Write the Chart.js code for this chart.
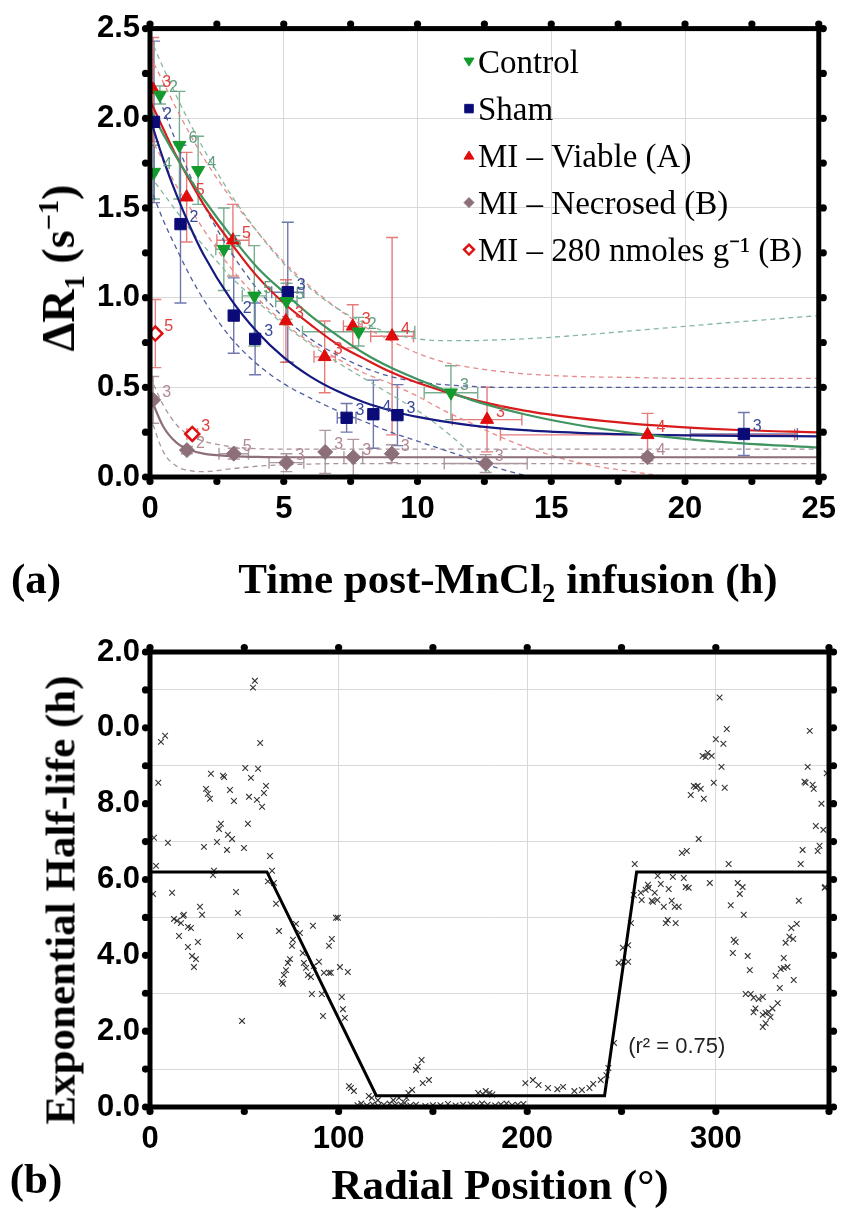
<!DOCTYPE html>
<html><head><meta charset="utf-8">
<script src="https://cdn.jsdelivr.net/npm/chart.js@4.4.1/dist/chart.umd.min.js"></script>
<style>
html,body{margin:0;padding:0;background:#fff;}
#wrap{position:relative;width:850px;height:1215px;overflow:hidden;background:#fff;}
canvas{position:absolute;left:0;}
#c1{top:0;} #c2{top:600px;}
.t{position:absolute;font-family:'Liberation Serif','Times New Roman',serif;font-weight:bold;color:#000;white-space:nowrap;transform:translate(-50%,-50%);line-height:1;}
.rot{transform:translate(-50%,-50%) rotate(-90deg);}
sub,sup{font-size:0.62em;line-height:0;}
</style></head><body><div id="wrap">
<canvas id="c1" width="850" height="600"></canvas>
<canvas id="c2" width="850" height="615"></canvas>
<div class="t rot" style="left:59px;top:268px;font-size:46px">ΔR<sub>1</sub> (s<sup>−1</sup>)</div>
<div class="t" style="left:36px;top:578px;font-size:43px">(a)</div>
<div class="t" style="left:508px;top:578px;font-size:43px">Time post-MnCl<sub>2</sub> infusion (h)</div>
<div class="t rot" style="left:60px;top:900px;font-size:43px">Exponential Half-life (h)</div>
<div class="t" style="left:36px;top:1178px;font-size:43px">(b)</div>
<div class="t" style="left:500px;top:1184px;font-size:43px">Radial Position (°)</div>
</div>
<script>
// ---------- Panel (a) data ----------
const seriesNames = ['Control','Sham','MI – Viable (A)','MI – Necrosed (B)','MI – 280 nmoles g⁻¹ (B)'];

const ctrlT  = [0.15, 0.37, 1.1, 1.8, 2.76, 3.9, 5.1, 7.8, 11.25];
const ctrlR  = [1.70, 2.13, 1.85, 1.71, 1.27, 1.01, 0.98, 0.81, 0.47];
const ctrlYE = [0.15, 0.05, 0.30, 0.19, 0.23, 0.28, 0.10, 0.08, 0.15];
const ctrlXE = [0, 0, 0, 0, 0.3, 0.45, 0.4, 2.1, 1.0];
const ctrlN  = [4, 2, 6, 4, 5, 5, 5, 2, 3];

const shamT  = [0.15, 1.14, 3.13, 3.93, 5.15, 7.35, 8.35, 9.25, 22.2];
const shamR  = [1.98, 1.41, 0.90, 0.77, 1.03, 0.33, 0.35, 0.345, 0.24];
const shamYE = [0.45, 0.44, 0.21, 0.20, 0.39, 0.08, 0.19, 0.17, 0.12];
const shamXE = [0, 0, 0, 0, 0.6, 0.35, 0, 0, 2.0];
const shamN  = [2, 2, 2, 3, 3, 3, 4, 3, 3];

const viabT  = [0.12, 1.37, 3.1, 5.08, 6.53, 7.58, 9.05, 12.6, 18.6];
const viabR  = [2.16, 1.56, 1.32, 0.87, 0.67, 0.84, 0.785, 0.32, 0.235];
const viabYE = [0.29, 0.25, 0.20, 0.23, 0.20, 0.12, 0.55, 0.18, 0.12];
const viabXE = [0, 0, 0.6, 0, 0.4, 0.35, 0.8, 1.3, 5.5];
const viabN  = [3, 5, 5, 3, 3, 3, 4, 3, 4];

const necrT  = [0.12, 1.38, 3.13, 5.1, 6.55, 7.6, 9.04, 12.55, 18.6];
const necrR  = [0.43, 0.15, 0.13, 0.08, 0.14, 0.11, 0.13, 0.075, 0.11];
const necrYE = [0.13, 0.02, 0.03, 0.05, 0.12, 0.10, 0.05, 0.05, 0.02];
const necrXE = [0, 0, 0.55, 0.65, 0, 0.35, 0, 1.55, 0];
const necrN  = [3, 2, 5, 3, 3, 3, 3, 3, 4];

const doseT  = [0.2, 1.58];
const doseR  = [0.80, 0.24];
const doseYE = [0.19, 0.02];
const doseXE = [0, 0.2];
const doseN  = [5, 3];

// fitted curves
const fitT    = [0, 0.5, 1, 1.5, 2, 3, 4, 5, 6, 7, 8, 9, 10, 12, 14, 16, 18, 20, 22, 25];
const fitCtrl = [2.05, 1.91, 1.78, 1.66, 1.55, 1.35, 1.17, 1.03, 0.90, 0.79, 0.69, 0.61, 0.545, 0.43, 0.35, 0.29, 0.246, 0.213, 0.189, 0.164];
const fitViab = [2.10, 1.94, 1.785, 1.65, 1.52, 1.31, 1.12, 0.97, 0.85, 0.74, 0.66, 0.585, 0.525, 0.434, 0.37, 0.328, 0.298, 0.277, 0.262, 0.249];
const fitSham = [2.00, 1.77, 1.57, 1.395, 1.24, 0.996, 0.81, 0.667, 0.56, 0.479, 0.417, 0.371, 0.335, 0.288, 0.261, 0.246, 0.237, 0.232, 0.229, 0.227];
const fitNecr = [0.45, 0.28, 0.19, 0.15, 0.13, 0.116, 0.112, 0.11, 0.11, 0.11, 0.11, 0.11, 0.11, 0.11, 0.11, 0.11, 0.11, 0.11, 0.11, 0.11];

// confidence bands (dashed)
const bandT      = [0, 0.5, 1, 1.5, 2, 3, 4, 5, 6, 7, 8, 9, 10, 11, 12, 13, 14, 16, 18, 20, 22, 25];
const ctrlUpper  = [2.45, 2.28, 2.12, 1.97, 1.83, 1.58, 1.37, 1.19, 1.05, 0.94, 0.86, 0.80, 0.77, 0.76, 0.76, 0.765, 0.77, 0.79, 0.815, 0.84, 0.865, 0.90];
const ctrlLower  = [1.68, 1.58, 1.48, 1.38, 1.29, 1.12, 0.98, 0.85, 0.74, 0.64, 0.55, 0.46, 0.37, 0.26, 0.13, -0.02, -0.2, -0.5, -0.5, -0.5, -0.5, -0.5];
const viabUpper  = [2.35, 2.20, 2.05, 1.91, 1.78, 1.56, 1.37, 1.20, 1.06, 0.94, 0.84, 0.76, 0.69, 0.64, 0.61, 0.59, 0.575, 0.56, 0.555, 0.55, 0.55, 0.55];
const viabLower  = [1.90, 1.76, 1.62, 1.50, 1.38, 1.17, 1.00, 0.86, 0.75, 0.66, 0.58, 0.52, 0.45, 0.37, 0.30, 0.23, 0.17, 0.08, 0.03, -0.01, -0.05, -0.1];
const shamUpper  = [2.25, 2.05, 1.86, 1.68, 1.52, 1.26, 1.05, 0.89, 0.77, 0.68, 0.61, 0.56, 0.53, 0.515, 0.505, 0.50, 0.50, 0.50, 0.50, 0.50, 0.50, 0.50];
const shamLower  = [1.62, 1.43, 1.27, 1.12, 0.99, 0.78, 0.63, 0.52, 0.44, 0.37, 0.31, 0.25, 0.20, 0.15, 0.10, 0.05, 0.01, -0.05, -0.1, -0.1, -0.1, -0.1];
const necrUpper  = [0.56, 0.40, 0.29, 0.23, 0.20, 0.17, 0.158, 0.155, 0.155, 0.155, 0.155, 0.155, 0.155, 0.155, 0.155, 0.155, 0.155, 0.155, 0.155, 0.155, 0.155, 0.155];
const necrLower  = [0.34, 0.14, 0.06, 0.035, 0.03, 0.045, 0.06, 0.068, 0.072, 0.075, 0.075, 0.075, 0.075, 0.075, 0.075, 0.075, 0.075, 0.075, 0.075, 0.075, 0.075, 0.075];

// ---------- Panel (b) data ----------
const radX = [55.6,54.6,8.0,5.8,58.4,4.4,32.3,38.7,39.3,50.5,57.3,53.5,29.7,30.7,31.8,42.4,44.5,52.5,56.7,61.5,60.4,59.4,37.6,36.6,51.9,41.3,43.5,35.5,40.8,28.6,49.8,9.5,2.1,3.2,63.6,64.7,65.7,66.8,33.9,33.4,1.6,11.7,45.6,26.5,27.6,46.6,12.7,17.5,18.0,
14.3,16.4,20.1,21.7,15.4,20.1,25.4,22.3,24.4,23.3,47.7,48.8,62.5,68.4,77.4,86.4,79.5,75.8,75.3,74.2,73.1,72.1,71.0,69.9,70.5,81.0,81.6,82.7,83.7,85.3,89.6,86.9,85.8,91.1,91.7,94.9,96.4,98.6,99.6,92.2,94.9,95.9,100.7,104.9,101.7,102.3,103.3,105.5,106.5,108.1,116.0,117.6,120.8,129.0,132.0,136.0,137.0,139.0,141.0,142.0,144.0,144.6,147.9,
174,178,180,199,203,206,211,216,219,225,229,233,235,239,242,243,246,248.5,251,253.5,250.7,253.5,255,273.5,274.5,278.7,307.9,312.7,314.8,309.5,310.5,309,316.9,318,315.8,318.5,320,322.7,324.9,321,320,324.9,326.4,328,330,332.8,326.4,324.9,329,333.9,331.7,334.4,336,338,336,341.3,337,339,341,340,342.9,344,358,
302,305.8,300,304,293,294.6,295.7,297.8,303,298.9,304.7,288.3,289.3,290.4,292,286.7,293.6,290.9,282,284.6,257,306.8,269.2,277.2,283,296.8,311.6,314.2,284,285.6,264,264.4,262.8,270.8,275,267.6,260.2,256.5,260.7,266,269,272.4,276.6,278.2,280.3,266.6,349.8,348.7,347,347.6,351.3,351.9,356,353,357,346,354,355,345,357.7,358.8,
110,112,115,118,121,124,127,130,133,135,138,141,146,150,154,158,162,166,170,173,176,179,183,186,189,192,195,198,176.5,181.5];
const radY = [11.24,11.06,9.79,9.63,9.6,8.55,8.79,8.74,8.7,8.94,8.92,8.68,8.39,8.26,8.13,8.36,8.07,8.18,8.1,8.47,8.28,7.92,7.47,7.33,7.47,7.18,7.07,6.99,6.78,6.86,6.83,6.97,7.1,6.36,6.62,6.23,5.91,5.36,6.23,6.12,5.62,5.65,5.67,5.28,5.07,5.12,4.96,5.04,5.07,
4.91,4.85,4.75,4.72,4.51,4.22,4.35,3.98,3.90,3.69,4.51,2.27,5.95,4.64,4.83,4.78,4.59,4.41,4.25,3.90,3.80,3.61,3.48,3.30,3.25,4.06,3.80,3.67,3.48,3.43,3.83,3.72,2.98,2.98,2.40,4.25,4.43,4.99,4.99,3.54,3.54,3.54,3.69,3.56,2.90,2.58,2.35,0.55,0.50,0.42,0.29,0.24,0.18,0.18,0.24,0.24,0.37,0.45,0.98,1.06,1.24,0.63,0.71,
0.37,0.42,0.37,0.63,0.71,0.58,0.50,0.47,0.53,0.42,0.45,0.50,0.61,0.71,0.84,1.03,1.69,3.80,3.83,3.83,4.20,4.27,4.85,4.85,4.93,4.85,5.32,5.62,5.07,4.41,4.35,4.06,3.98,3.61,2.98,2.98,2.88,2.85,2.90,2.60,2.50,2.43,2.48,2.50,2.60,2.74,2.21,2.11,2.37,3.14,3.46,3.64,3.67,3.69,3.93,3.35,4.33,4.49,4.43,4.72,4.83,5.44,5.80,
10.8,9.97,9.7,9.58,9.26,9.23,9.34,9.26,8.97,8.55,8.42,8.47,8.44,8.47,8.39,8.23,8.13,7.07,6.70,6.75,6.41,6.41,6.10,6.07,6.04,5.91,5.91,5.80,5.80,5.78,5.86,5.78,5.73,5.88,5.75,5.65,5.65,5.59,5.46,5.44,5.46,5.28,5.44,5.28,5.28,5.41,9.92,8.97,8.58,8.55,8.50,8.39,8.00,7.41,7.31,6.78,6.75,6.89,6.41,5.78,8.80,
0.05,0.09,0.04,0.07,0.03,0.06,0.09,0.05,0.07,0.11,0.04,0.06,0.03,0.05,0.05,0.08,0.04,0.06,0.07,0.05,0.09,0.06,0.04,0.07,0.09,0.05,0.06,0.08,0.34,0.33];

const fitRad = [0, 62, 120, 241, 258, 360];
const fitHL  = [6.2, 6.2, 0.3, 0.3, 6.2, 6.2];
const halfLifeTickLabels = ['0.0','2.0','4.0','6.0','8.0','0.0','2.0'];
const rSquaredText = '(r² = 0.75)';
const rSquaredAt = {x: 253.5, y: 1.58};

// ---------- helpers ----------
const pts = (xs, ys) => xs.map((v, i) => ({x: v, y: ys[i]}));
const tickFont = {family: "'Liberation Sans', Arial, sans-serif", weight: 'bold', size: 31};
const GRID = '#d9d9d9';

const series = [
  {t: ctrlT, r: ctrlR, ye: ctrlYE, xe: ctrlXE, n: ctrlN, err: 'rgba(95,160,125,0.85)', nc: '#5f9c7c', shape: 'tdown', fill: '#129a2c', stroke: '#129a2c'},
  {t: shamT, r: shamR, ye: shamYE, xe: shamXE, n: shamN, err: 'rgba(85,95,160,0.85)', nc: '#3a4a9a', shape: 'square', fill: '#0b0b78', stroke: '#0b0b78'},
  {t: viabT, r: viabR, ye: viabYE, xe: viabXE, n: viabN, err: 'rgba(225,100,100,0.85)', nc: '#e04040', shape: 'tup', fill: '#e00b0b', stroke: '#e00b0b'},
  {t: necrT, r: necrR, ye: necrYE, xe: necrXE, n: necrN, err: 'rgba(160,135,145,0.85)', nc: '#b08890', shape: 'diamond', fill: '#8c6f78', stroke: '#8c6f78'},
  {t: doseT, r: doseR, ye: doseYE, xe: doseXE, n: doseN, err: 'rgba(230,110,110,0.85)', nc: '#e04040', shape: 'odiamond', fill: '#ffffff', stroke: '#e01010'}
];

function drawMarker(ctx, shape, x, y, r, fill, stroke) {
  ctx.save();
  ctx.fillStyle = fill; ctx.strokeStyle = stroke; ctx.lineWidth = 1;
  ctx.beginPath();
  if (shape === 'tdown') { ctx.moveTo(x - r, y - r * 0.7); ctx.lineTo(x + r, y - r * 0.7); ctx.lineTo(x, y + r * 0.9); }
  else if (shape === 'tup') { ctx.moveTo(x - r, y + r * 0.7); ctx.lineTo(x + r, y + r * 0.7); ctx.lineTo(x, y - r * 0.9); }
  else if (shape === 'square') { ctx.rect(x - r * 0.85, y - r * 0.85, r * 1.7, r * 1.7); }
  else { ctx.moveTo(x, y - r); ctx.lineTo(x + r, y); ctx.lineTo(x, y + r); ctx.lineTo(x - r, y); }
  ctx.closePath();
  if (shape === 'odiamond') { ctx.fillStyle = '#fff'; ctx.fill(); ctx.lineWidth = 2.4; ctx.stroke(); }
  else { ctx.fill(); ctx.stroke(); }
  ctx.restore();
}

const framePlugin = {
  id: 'frame',
  afterDraw(chart) {
    const {ctx, chartArea: a, scales: {x, y}} = chart;
    ctx.save();
    ctx.strokeStyle = '#000'; ctx.lineWidth = 5;
    ctx.strokeRect(a.left, a.top, a.right - a.left, a.bottom - a.top);
    ctx.fillStyle = '#000';
    const rr = 3.6, off = 4.5;
    const dot = (px, py) => { ctx.beginPath(); ctx.arc(px, py, rr, 0, Math.PI * 2); ctx.fill(); };
    x.ticks.forEach(t => { const px = x.getPixelForValue(t.value); dot(px, a.top - off); dot(px, a.bottom + off); });
    y.ticks.forEach(t => { const py = y.getPixelForValue(t.value); dot(a.left - off, py); dot(a.right + off, py); });
    ctx.restore();
  }
};

const errPlugin = {
  id: 'err',
  beforeDatasetsDraw(chart) {
    const {ctx, chartArea: a, scales: {x, y}} = chart;
    ctx.save();
    ctx.beginPath(); ctx.rect(a.left, a.top, a.right - a.left, a.bottom - a.top); ctx.clip();
    ctx.lineWidth = 1.4;
    series.forEach(s => {
      ctx.strokeStyle = s.err;
      s.t.forEach((tv, i) => {
        const px = x.getPixelForValue(tv), py = y.getPixelForValue(s.r[i]);
        ctx.beginPath();
        if (s.ye[i]) {
          const yt = y.getPixelForValue(s.r[i] + s.ye[i]), yb = y.getPixelForValue(s.r[i] - s.ye[i]);
          ctx.moveTo(px, yt); ctx.lineTo(px, yb);
          ctx.moveTo(px - 6, yt); ctx.lineTo(px + 6, yt);
          ctx.moveTo(px - 6, yb); ctx.lineTo(px + 6, yb);
        }
        if (s.xe[i]) {
          const xl = x.getPixelForValue(tv - s.xe[i]), xr = x.getPixelForValue(tv + s.xe[i]);
          ctx.moveTo(xl, py); ctx.lineTo(xr, py);
          ctx.moveTo(xl, py - 6); ctx.lineTo(xl, py + 6);
          ctx.moveTo(xr, py - 6); ctx.lineTo(xr, py + 6);
        }
        ctx.stroke();
      });
    });
    ctx.restore();
  },
  afterDatasetsDraw(chart) {
    const {ctx, scales: {x, y}} = chart;
    ctx.save();
    ctx.font = "16px 'Liberation Sans', Arial, sans-serif";
    ctx.textBaseline = 'middle'; ctx.textAlign = 'left';
    series.forEach(s => {
      ctx.fillStyle = s.nc;
      s.t.forEach((tv, i) => {
        ctx.fillText(String(s.n[i]), x.getPixelForValue(tv) + 9, y.getPixelForValue(s.r[i]) - 7);
      });
    });
    ctx.restore();
  }
};

const legendPlugin = {
  id: 'lg',
  afterDraw(chart) {
    const ctx = chart.ctx, a = chart.chartArea;
    ctx.save();
    ctx.font = "33px 'Liberation Serif', 'Times New Roman', serif";
    ctx.textBaseline = 'middle'; ctx.textAlign = 'left';
    seriesNames.forEach((name, i) => {
      const yy = a.top + 36 + i * 47;
      const s = series[i];
      drawMarker(ctx, s.shape, a.left + 319, yy - 3, 5, s.fill, s.stroke);
      ctx.fillStyle = '#000';
      ctx.fillText(name, a.left + 328, yy);
    });
    ctx.restore();
  }
};

const isMult = (v, m) => Math.abs(v / m - Math.round(v / m)) < 1e-6;

const lineDs = (xs, ys, color, width, dash, order) => ({
  type: 'scatter', data: pts(xs, ys), showLine: true, pointRadius: 0, borderColor: color,
  borderWidth: width, borderDash: dash, cubicInterpolationMode: 'monotone', fill: false, order: order
});

// ---------- Chart (a) ----------
new Chart(document.getElementById('c1'), {
  type: 'scatter',
  data: {
    datasets: [
      {label: seriesNames[0], data: pts(ctrlT, ctrlR), pointStyle: 'triangle', pointRotation: 180, pointRadius: 7.5, pointBackgroundColor: '#129a2c', pointBorderColor: '#129a2c', pointBorderWidth: 1, order: 0},
      {label: seriesNames[1], data: pts(shamT, shamR), pointStyle: 'rect', pointRadius: 8, pointBackgroundColor: '#0b0b78', pointBorderColor: '#0b0b78', pointBorderWidth: 1, order: 0},
      {label: seriesNames[2], data: pts(viabT, viabR), pointStyle: 'triangle', pointRadius: 7.5, pointBackgroundColor: '#e00b0b', pointBorderColor: '#e00b0b', pointBorderWidth: 1, order: 0},
      {label: seriesNames[3], data: pts(necrT, necrR), pointStyle: 'rectRot', pointRadius: 7.5, pointBackgroundColor: '#8c6f78', pointBorderColor: '#8c6f78', pointBorderWidth: 1, order: 0},
      {label: seriesNames[4], data: pts(doseT, doseR), pointStyle: 'rectRot', pointRadius: 7, pointBackgroundColor: '#ffffff', pointBorderColor: '#e01010', pointBorderWidth: 2.5, order: 0},
      lineDs(fitT, fitCtrl, '#3f9460', 2.2, [], 1),
      lineDs(fitT, fitSham, '#141a80', 2.2, [], 1),
      lineDs(fitT, fitViab, '#d81c1c', 2.2, [], 1),
      lineDs(fitT, fitNecr, '#8c6f78', 2.2, [], 1),
      lineDs(bandT, ctrlUpper, '#86b8a0', 1.3, [5, 4], 2),
      lineDs(bandT, ctrlLower, '#86b8a0', 1.3, [5, 4], 2),
      lineDs(bandT, viabUpper, '#e68a8a', 1.3, [5, 4], 2),
      lineDs(bandT, viabLower, '#e68a8a', 1.3, [5, 4], 2),
      lineDs(bandT, shamUpper, '#4f5c9c', 1.3, [5, 4], 2),
      lineDs(bandT, shamLower, '#4f5c9c', 1.3, [5, 4], 2),
      lineDs(bandT, necrUpper, '#a8949a', 1.3, [5, 4], 2),
      lineDs(bandT, necrLower, '#a8949a', 1.3, [5, 4], 2)
    ]
  },
  options: {
    responsive: false, animation: false, devicePixelRatio: 1,
    layout: {padding: {top: 22, right: 21, left: 0, bottom: 0}},
    plugins: {legend: {display: false}, tooltip: {enabled: false}},
    scales: {
      x: {
        type: 'linear', min: 0, max: 25,
        ticks: {stepSize: 2.5, autoSkip: false, maxRotation: 0, padding: 14, color: '#000', font: tickFont,
          callback: v => isMult(v, 5) ? String(v) : ''},
        grid: {drawTicks: false, lineWidth: 1,
          color: c => (c.tick && isMult(c.tick.value, 5) && c.tick.value > 0 && c.tick.value < 25) ? GRID : 'rgba(0,0,0,0)'},
        border: {display: false},
        afterFit(s) { s.height = 123; }
      },
      y: {
        type: 'linear', min: 0, max: 2.5,
        ticks: {stepSize: 0.25, autoSkip: false, padding: 10, color: '#000', font: tickFont,
          callback: v => isMult(v, 0.5) ? v.toFixed(1) : ''},
        grid: {drawTicks: false, lineWidth: 1,
          color: c => (c.tick && isMult(c.tick.value, 0.5) && c.tick.value > 0 && c.tick.value < 2.5) ? GRID : 'rgba(0,0,0,0)'},
        border: {display: false},
        afterFit(s) { s.width = 150; }
      }
    }
  },
  plugins: [errPlugin, legendPlugin, framePlugin]
});

// ---------- Chart (b) ----------
const annotPlugin = {
  id: 'annot',
  afterDatasetsDraw(chart) {
    const {ctx, scales: {x, y}} = chart;
    ctx.save();
    ctx.font = "22px 'Liberation Sans', Arial, sans-serif";
    ctx.fillStyle = '#222'; ctx.textBaseline = 'middle'; ctx.textAlign = 'left';
    ctx.fillText(rSquaredText, x.getPixelForValue(rSquaredAt.x), y.getPixelForValue(rSquaredAt.y));
    ctx.restore();
  }
};

new Chart(document.getElementById('c2'), {
  type: 'scatter',
  data: {
    datasets: [
      {label: 'Half-life', data: pts(radX, radY), pointStyle: 'crossRot', pointRadius: 4, pointBorderColor: '#333', pointBackgroundColor: '#333', pointBorderWidth: 1.1, order: 1},
      {type: 'scatter', label: 'Fit', data: pts(fitRad, fitHL), showLine: true, pointRadius: 0, borderColor: '#000', borderWidth: 3, tension: 0, fill: false, order: 0}
    ]
  },
  options: {
    responsive: false, animation: false, devicePixelRatio: 1,
    layout: {padding: {top: 52, right: 21, left: 0, bottom: 0}},
    plugins: {legend: {display: false}, tooltip: {enabled: false}},
    scales: {
      x: {
        type: 'linear', min: 0, max: 360,
        ticks: {stepSize: 50, autoSkip: false, maxRotation: 0, padding: 14, color: '#000', font: tickFont,
          callback: v => (isMult(v, 100) && v < 360) ? String(v) : ''},
        grid: {drawTicks: false, lineWidth: 1,
          color: c => (c.tick && [100, 200, 300].includes(c.tick.value)) ? GRID : 'rgba(0,0,0,0)'},
        border: {display: false},
        afterFit(s) { s.height = 108; }
      },
      y: {
        type: 'linear', min: 0, max: 12,
        ticks: {stepSize: 1, autoSkip: false, padding: 10, color: '#000', font: tickFont,
          callback: v => isMult(v, 2) ? halfLifeTickLabels[Math.round(v / 2)] : ''},
        grid: {drawTicks: false, lineWidth: 1,
          color: c => (c.tick && !isMult(c.tick.value, 2)) ? GRID : 'rgba(0,0,0,0)'},
        border: {display: false},
        afterFit(s) { s.width = 150; }
      }
    }
  },
  plugins: [annotPlugin, framePlugin]
});
</script>
</body></html>
